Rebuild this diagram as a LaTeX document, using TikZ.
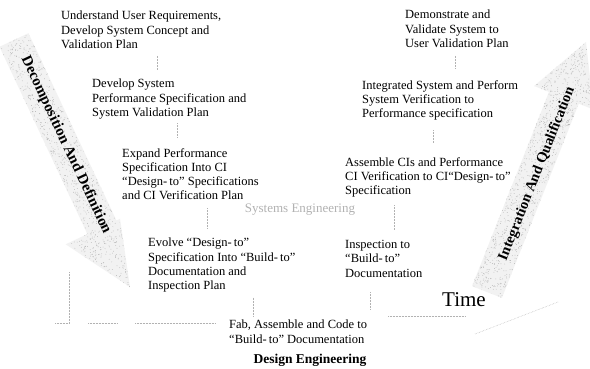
\documentclass[tikz,border=0pt]{standalone}
\usepackage{fontspec}
\setmainfont{Liberation Serif}
\begin{document}
\begin{tikzpicture}[x=1pt,y=-1pt,
  blk/.style={anchor=north west, inner sep=0pt, align=left,
    font=\fontsize{12.5}{14.3}\selectfont},
  conn/.style={densely dotted, gray!60, line width=0.5pt},
  axisline/.style={densely dotted, gray!60, line width=0.5pt},
  stipple/.style={gray!60},
  arrowlbl/.style={inner sep=0pt, font=\bfseries\fontsize{15}{15}\selectfont}
]
\useasboundingbox (0,0) rectangle (590,368);
\fill[white] (0,0) rectangle (590,368);

% ---- big stippled arrow: decomposition (downwards) ----
\pgfmathsetseed{11}
\begin{scope}[shift={(14,40)}, rotate=-64.85]
  \clip (0,-16) -- (206.9,-16) -- (206.9,-20) -- (272.9,0)
        -- (206.9,40) -- (206.9,16) -- (0,16) -- cycle;
  \fill[gray!10] (-5,-45) rectangle (280,45);
  \foreach \i in {1,...,2200}{
    \pgfmathsetmacro\u{137+138*rand}
    \pgfmathsetmacro\v{42*rand}
    \fill[stipple] (\u,\v) circle (0.42);
  }
\end{scope}

% ---- big stippled arrow: integration (upwards) ----
\begin{scope}[shift={(487,292)}, rotate=68.4]
  \clip (0,-16) -- (208.9,-16) -- (208.9,-32) -- (268.9,0)
        -- (208.9,32) -- (208.9,16) -- (0,16) -- cycle;
  \fill[gray!10] (-5,-45) rectangle (280,45);
  \foreach \i in {1,...,2200}{
    \pgfmathsetmacro\u{135+136*rand}
    \pgfmathsetmacro\v{34*rand}
    \fill[stipple] (\u,\v) circle (0.42);
  }
\end{scope}

\node[arrowlbl, rotate=-64.85] (decomp) at (66,145) {Decomposition And Definition};
\node[arrowlbl, font=\bfseries\fontsize{14.5}{15}\selectfont, rotate=68.4] (integ) at (537,174)
  {Integration And Qualification};

% ---- left leg of the V ----
\node[blk] (A) at (61,11) {Understand User Requirements,\\Develop System Concept and\\Validation Plan};
\node[blk] (B) at (92,79) {Develop System\\Performance Specification and\\System Validation Plan};
\node[blk] (C) at (122,148) {Expand Performance\\Specification Into CI\\“Design-\,to” Specifications\\and CI Verification Plan};
\node[blk] (D) at (148,238) {Evolve “Design-\,to”\\Specification Into “Build-\,to”\\Documentation and\\Inspection Plan};

% ---- bottom ----
\node[blk] (E) at (229,320) {Fab, Assemble and Code to\\“Build-\,to” Documentation};

% ---- right leg of the V ----
\node[blk] (F) at (405,10) {Demonstrate and\\Validate System to\\User Validation Plan};
\node[blk] (G) at (362,80) {Integrated System and Perform\\System Verification to\\Performance specification};
\node[blk] (H) at (345,157) {Assemble CIs and Performance\\CI Verification to CI“Design-\,to”\\Specification};
\node[blk] (I) at (345,240) {Inspection to\\“Build-\,to”\\Documentation};

\node[inner sep=0pt, font=\bfseries\fontsize{13.5}{14}\selectfont] (deseng) at (310,360) {Design Engineering};
\node[inner sep=0pt, text=gray!60, font=\fontsize{13}{14}\selectfont] (syseng) at (300,210) {Systems Engineering};
\node[inner sep=0pt, font=\fontsize{21}{22}\selectfont] (time) at (464,300) {Time};

% ---- dotted links between the stages ----
\coordinate (xAB) at (157,0);
\coordinate (xBC) at (177,0);
\coordinate (xCD) at (207,0);
\coordinate (xDE) at (253,0);
\coordinate (xIE) at (370,0);
\coordinate (xHI) at (394,0);
\coordinate (xGH) at (433,0);
\coordinate (xFG) at (455,0);
\draw[conn, shorten <=7pt, shorten >=9pt] (A.south -| xAB) -- (B.north -| xAB);
\draw[conn, shorten <=4pt, shorten >=11pt] (B.south -| xBC) -- (C.north -| xBC);
\draw[conn, shorten <=8pt, shorten >=10pt] (C.south -| xCD) -- (D.north -| xCD);
\draw[conn, shorten <=5pt, shorten >=3pt] (D.south -| xDE) -- (E.north -| xDE);
\draw[conn, shorten <=15pt, shorten >=10pt] (I.south -| xIE) -- (E.north -| xIE);
\draw[conn, shorten <=8pt, shorten >=10pt] (H.south -| xHI) -- (I.north -| xHI);
\draw[conn, shorten <=10pt, shorten >=14pt] (G.south -| xGH) -- (H.north -| xGH);
\draw[conn, shorten <=8pt, shorten >=12pt] (F.south -| xFG) -- (G.north -| xFG);

% ---- time axis ----
\coordinate (v1) at (69,272);
\coordinate (v2) at (69,322);
\coordinate (h1) at (55,323);
\coordinate (h2) at (69,323);
\coordinate (h3) at (88,323);
\coordinate (h4) at (117,323);
\coordinate (h5) at (135,323);
\coordinate (h6) at (215,323);
\coordinate (r1) at (388,316);
\coordinate (r2) at (465,316);
\coordinate (d1) at (475,334);
\coordinate (d2) at (558,302);
\draw[axisline] (v1) -- (v2);
\draw[axisline] (h1) -- (h2);
\draw[axisline] (h3) -- (h4);
\draw[axisline] (h5) -- (h6);
\draw[axisline] (r1) -- (r2);
\draw[axisline] (d1) -- (d2);
\end{tikzpicture}
\end{document}
